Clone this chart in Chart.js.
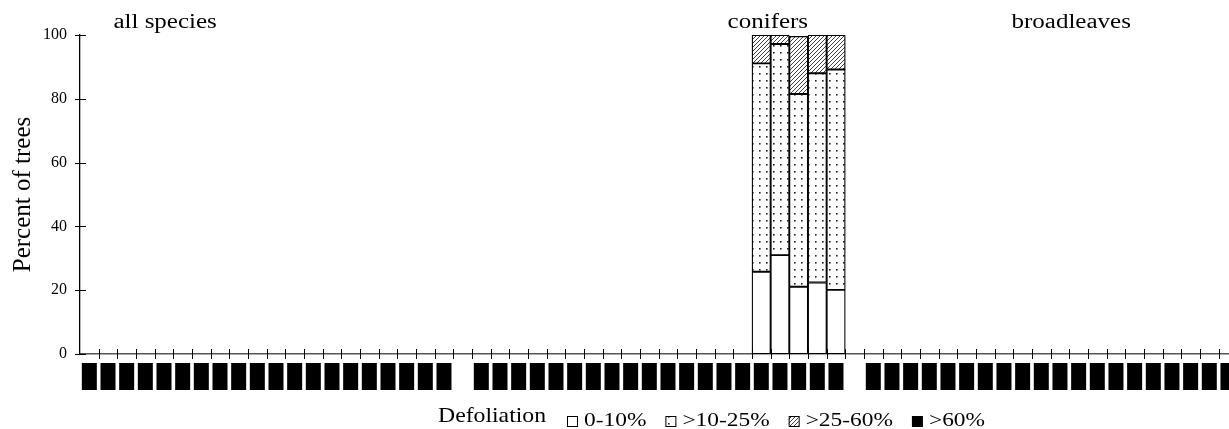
<!DOCTYPE html>
<html>
<head>
<meta charset="utf-8">
<title>Defoliation</title>
<script src="https://cdn.jsdelivr.net/npm/chart.js@4.4.1/dist/chart.umd.min.js"></script>
<style>
  html, body { margin: 0; padding: 0; background: #fff; overflow: hidden; }
  canvas { display: block; }
</style>
</head>
<body>
<canvas id="defoliation" width="1251" height="429"></canvas>
<script>
// one block of years per species group, an empty slot between groups
const allSpeciesYears = ['1987','1988','1989','1990','1991','1992','1993','1994','1995','1996',
  '1997','1998','1999','2000','2001','2002','2003','2004','2005','2006'];
const coniferYears = ['1987','1988','1989','1990','1991','1992','1993','1994','1995','1996',
  '1997','1998','1999','2000','2001','2002','2003','2004','2005','2006'];
const broadleafYears = ['1987','1988','1989','1990','1991','1992','1993','1994','1995','1996',
  '1997','1998','1999','2000','2001','2002','2003','2004','2005','2006'];
const categories = [...allSpeciesYears, '', ...coniferYears, '', ...broadleafYears];

const groupTitles = ['all species', 'conifers', 'broadleaves'];
const legendTitle = 'Defoliation';

// only the last five conifer years carry values
const firstConiferBar = allSpeciesYears.length + 1 + 15;
const class0to10 = [25.8, 31.0, 21.1, 22.4, 20.1];
const class10to25 = [65.3, 66.2, 60.4, 65.6, 69.1];
const class25to60 = [8.9, 2.8, 18.1, 12.0, 10.8];
const classOver60 = [0, 0, 0, 0, 0];

const seriesNames = ['0-10%', '>10-25%', '>25-60%', '>60%'];

function spread(values) {
  return categories.map((c, i) => {
    const k = i - firstConiferBar;
    return k >= 0 && k < values.length ? values[k] : null;
  });
}

function dots() {
  const c = document.createElement('canvas');
  c.width = 7; c.height = 7;
  const g = c.getContext('2d');
  g.fillStyle = '#fff';
  g.fillRect(0, 0, 7, 7);
  g.fillStyle = '#222';
  g.fillRect(3, 3, 1.6, 1.6);
  return g.createPattern(c, 'repeat');
}

function hatch() {
  const c = document.createElement('canvas');
  c.width = 4; c.height = 4;
  const g = c.getContext('2d');
  g.fillStyle = '#fff';
  g.fillRect(0, 0, 4, 4);
  g.strokeStyle = '#444';
  g.lineWidth = 1;
  g.beginPath();
  g.moveTo(-1, 5); g.lineTo(5, -1);
  g.moveTo(-1, 1); g.lineTo(1, -1);
  g.moveTo(3, 5); g.lineTo(5, 3);
  g.stroke();
  return g.createPattern(c, 'repeat');
}

const fills = ['#ffffff', dots(), hatch(), '#000000'];
const FONT = '"Liberation Serif", "Times New Roman", serif';

// ticks in the source cross the axis lines
const crossTicks = {
  id: 'crossTicks',
  afterDatasetsDraw(chart) {
    const { ctx, scales: { x, y } } = chart;
    const step = x.width / categories.length;
    ctx.save();
    ctx.strokeStyle = '#000';
    ctx.lineWidth = 1;
    ctx.beginPath();
    for (let i = 0; i < categories.length; i++) {
      const px = Math.round(x.getPixelForTick(i) + step / 2) + 0.5;
      ctx.moveTo(px, y.bottom - 5);
      ctx.lineTo(px, y.bottom + 5);
    }
    y.ticks.forEach((t, i) => {
      const py = Math.round(y.getPixelForTick(i)) + 0.5;
      ctx.moveTo(x.left - 5, py);
      ctx.lineTo(x.left + 6, py);
    });
    ctx.stroke();
    ctx.restore();
  }
};

// wide serif text, as the source stretches its lettering
function wideText(ctx, text, x, y, sx) {
  ctx.save();
  ctx.translate(x, y);
  ctx.scale(sx, 1);
  ctx.fillText(text, 0, 0);
  ctx.restore();
}

// group names over the plot
const groupLabels = {
  id: 'groupLabels',
  afterDraw(chart) {
    const { ctx, scales: { x } } = chart;
    const at = [4.06, 36.35, 52.6];
    ctx.save();
    ctx.font = '20px ' + FONT;
    ctx.fillStyle = '#000';
    ctx.textAlign = 'center';
    ctx.textBaseline = 'alphabetic';
    groupTitles.forEach((t, i) => wideText(ctx, t, x.getPixelForValue(at[i]), 28, 1.25));
    ctx.restore();
  }
};

// one-row legend: "Defoliation" then the four classes
const legendRow = {
  id: 'legendRow',
  afterDraw(chart) {
    const { ctx } = chart;
    ctx.save();
    ctx.fillStyle = '#000';
    ctx.textBaseline = 'alphabetic';
    ctx.font = '21px ' + FONT;
    wideText(ctx, legendTitle, 438, 422, 1.13);
    ctx.font = '18px ' + FONT;
    let x = 567;
    chart.data.datasets.forEach(ds => {
      ctx.fillStyle = ds.backgroundColor;
      ctx.fillRect(x, 416, 10, 10);
      ctx.strokeStyle = '#000';
      ctx.lineWidth = 1;
      ctx.strokeRect(x + 0.5, 416.5, 10, 10);
      ctx.fillStyle = '#000';
      const w = ctx.measureText(ds.label).width * 1.3;
      wideText(ctx, ds.label, x + 17, 426, 1.3);
      x += 17 + w + 19;
    });
    ctx.restore();
  }
};

const ctx = document.getElementById('defoliation').getContext('2d');

new Chart(ctx, {
  type: 'bar',
  data: {
    labels: categories,
    datasets: [class0to10, class10to25, class25to60, classOver60].map((vals, i) => ({
      label: seriesNames[i],
      data: spread(vals),
      backgroundColor: fills[i],
      borderColor: '#000',
      borderWidth: 1.3,
      borderSkipped: false,
      barPercentage: 1,
      categoryPercentage: 1,
    })),
  },
  options: {
    responsive: false,
    animation: false,
    layout: { padding: { top: 35, right: 5, left: 0, bottom: 0 } },
    plugins: {
      tooltip: { enabled: false },
      legend: { display: false },
    },
    scales: {
      x: {
        stacked: true,
        grid: { display: false, drawTicks: false },
        border: { display: true, color: '#555', width: 1.5 },
        afterFit: (scale) => { scale.height = 75; },
        ticks: {
          autoSkip: false,
          minRotation: 90,
          maxRotation: 90,
          padding: 10,
          labelOffset: -6.5,
          color: '#000',
          font: { family: FONT, size: 12.5, lineHeight: 1.04 },
          showLabelBackdrop: true,
          backdropPadding: 1,
          backdropColor: (c) => (c.tick && c.tick.label ? '#000' : 'rgba(0,0,0,0)'),
        },
      },
      y: {
        stacked: true,
        min: 0,
        max: 100,
        grid: { display: false, drawTicks: false },
        border: { display: true, color: '#000', width: 1.3 },
        afterFit: (scale) => { scale.width = 80; },
        ticks: {
          stepSize: 20,
          padding: 13,
          color: '#000',
          font: { family: FONT, size: 16 },
        },
        title: {
          display: true,
          text: 'Percent of trees',
          color: '#000',
          font: { family: FONT, size: 25 },
          padding: { top: 8, bottom: 0 },
        },
      },
    },
  },
  plugins: [crossTicks, groupLabels, legendRow],
});
</script>
</body>
</html>
